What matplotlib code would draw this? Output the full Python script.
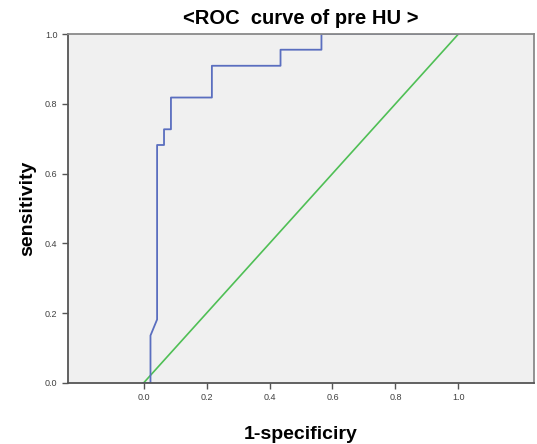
import matplotlib
matplotlib.use("Agg")
import matplotlib.pyplot as plt

plt.rcParams['font.family'] = ['Liberation Sans', 'DejaVu Sans']

# ROC curve points
fpr = [0.0, 0.022, 0.022, 0.043, 0.043, 0.065, 0.065, 0.087, 0.087,
       0.217, 0.217, 0.435, 0.435, 0.565, 0.565, 1.0]
tpr = [0.0, 0.0, 0.136, 0.182, 0.682, 0.682, 0.727, 0.727, 0.818,
       0.818, 0.909, 0.909, 0.955, 0.955, 1.0, 1.0]
ref_x = [0.0, 1.0]
ref_y = [0.0, 1.0]
ticks = [0.0, 0.2, 0.4, 0.6, 0.8, 1.0]

fig = plt.figure(figsize=(5.37, 4.44), dpi=100)
ax = fig.add_axes([0.1266, 0.1374, 0.8678, 0.786])
ax.set_facecolor('#f0f0f0')

ax.plot(ref_x, ref_y, color='#4fbf55', lw=1.2)
ax.plot(fpr, tpr, color='#5a6ebf', lw=1.3)

ax.set_xlim(-0.24, 1.24)
ax.set_ylim(0, 1)
ax.set_xticks(ticks)
ax.set_yticks(ticks)
ax.set_xticklabels(['%.1f' % t for t in ticks])
ax.set_yticklabels(['%.1f' % t for t in ticks])
ax.tick_params(labelsize=6.5, labelcolor='#404040', color='#555555',
               length=4, width=1, direction='out')

for side in ['left', 'bottom']:
    ax.spines[side].set_color('#555555')
    ax.spines[side].set_linewidth(1.3)
for side in ['top', 'right']:
    ax.spines[side].set_color('#8a8a8a')
    ax.spines[side].set_linewidth(1.3)

ax.set_title('<ROC  curve of pre HU >', fontsize=14.5, fontweight='bold', pad=7)
ax.set_xlabel('1-specificiry', fontsize=14, fontweight='bold', labelpad=17)
ax.set_ylabel('sensitivity', fontsize=14, fontweight='bold', labelpad=6)

fig.savefig('out.png', dpi=100)
